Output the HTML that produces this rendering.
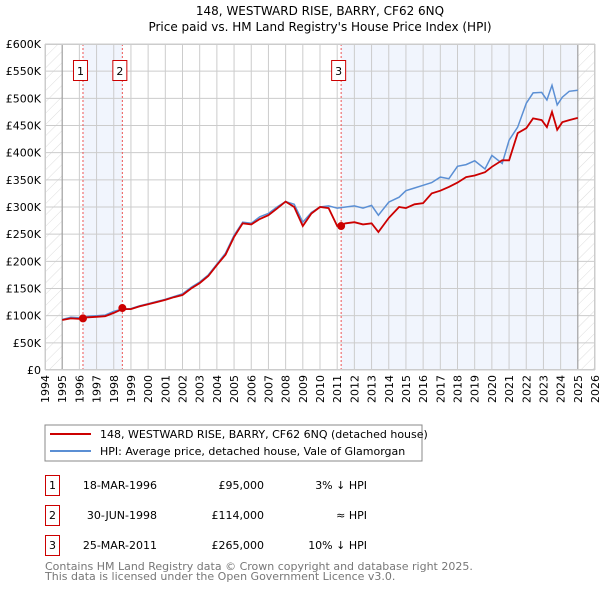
<!DOCTYPE html>
<html><head><meta charset="utf-8"><style>
body{margin:0;background:#fff;}
svg{display:block;font-family:"DejaVu Sans","Liberation Sans",sans-serif;}
</style></head><body>
<svg id="chart" width="600" height="590" xmlns="http://www.w3.org/2000/svg">
<defs>
<pattern id="hatch" width="8" height="8" patternUnits="userSpaceOnUse" patternTransform="rotate(45)">
<line x1="0" y1="0" x2="0" y2="8" stroke="#d4d4d4" stroke-width="0.8"/>
</pattern>
</defs>
<text x="320" y="15" text-anchor="middle" font-size="12">148, WESTWARD RISE, BARRY, CF62 6NQ</text>
<text x="320" y="31" text-anchor="middle" font-size="12">Price paid vs. HM Land Registry's House Price Index (HPI)</text>
<g id="plot"></g>
<g>
<rect x="45" y="425" width="377" height="36" fill="#fff" stroke="#888"/>
<line x1="50" y1="434" x2="91" y2="434" stroke="#cc0000" stroke-width="2"/>
<text x="100" y="438" font-size="11">148, WESTWARD RISE, BARRY, CF62 6NQ (detached house)</text>
<line x1="50" y1="451" x2="91" y2="451" stroke="#5b8fd4" stroke-width="2"/>
<text x="100" y="455" font-size="11">HPI: Average price, detached house, Vale of Glamorgan</text>
</g>
<g font-size="11">
<rect x="45.5" y="475.5" width="14" height="20" fill="none" stroke="#c00"/>
<text x="52.5" y="489" text-anchor="middle">1</text>
<text x="157" y="489" text-anchor="end">18-MAR-1996</text>
<text x="264" y="489" text-anchor="end">£95,000</text>
<text x="367" y="489" text-anchor="end">3% ↓ HPI</text>
<rect x="45.5" y="505.5" width="14" height="20" fill="none" stroke="#c00"/>
<text x="52.5" y="519" text-anchor="middle">2</text>
<text x="157" y="519" text-anchor="end">30-JUN-1998</text>
<text x="264" y="519" text-anchor="end">£114,000</text>
<text x="367" y="519" text-anchor="end">≈ HPI</text>
<rect x="45.5" y="535.5" width="14" height="20" fill="none" stroke="#c00"/>
<text x="52.5" y="549" text-anchor="middle">3</text>
<text x="157" y="549" text-anchor="end">25-MAR-2011</text>
<text x="264" y="549" text-anchor="end">£265,000</text>
<text x="367" y="549" text-anchor="end">10% ↓ HPI</text>
</g>
<text x="45" y="570" font-size="11" fill="#777">Contains HM Land Registry data © Crown copyright and database right 2025.</text>
<text x="45" y="580" font-size="11" fill="#777">This data is licensed under the Open Government Licence v3.0.</text>
</svg>
<script>
const hpiYears=[1995,1995.5,1996,1996.5,1997,1997.5,1998,1998.5,1999,1999.5,2000,2000.5,2001,2001.5,2002,2002.5,2003,2003.5,2004,2004.5,2005,2005.5,2006,2006.5,2007,2007.5,2008,2008.5,2009,2009.5,2010,2010.5,2011,2011.5,2012,2012.5,2013,2013.4,2014,2014.6,2015,2015.5,2016,2016.5,2017,2017.5,2018,2018.5,2019,2019.6,2020,2020.6,2021,2021.5,2022,2022.4,2022.9,2023.2,2023.5,2023.8,2024.1,2024.5,2025];
const hpiValues=[93,97,96,99,100,101,108,112,113,118,122,126,130,135,140,152,162,175,195,215,248,272,270,282,288,300,310,305,272,290,300,302,298,300,302,298,303,285,309,318,330,335,340,345,355,352,375,378,385,370,395,380,423,447,491,510,511,497,524,488,502,513,515];
const priceYears=hpiYears;
const priceValues=[92,95,94,97,98,99,105,112,112,117,121,125,129,134,138,150,160,173,193,212,245,270,268,278,285,297,310,300,265,288,300,298,265,270,272,268,270,254,280,300,298,305,307,325,330,337,345,355,358,364,374,386,386,436,445,463,460,447,475,442,456,460,464];
const sales=[{year:1996.21,value:95000,label:"1"},{year:1998.5,value:114000,label:"2"},{year:2011.23,value:265000,label:"3"}];
const yTicks=[0,50,100,150,200,250,300,350,400,450,500,550,600];
const xTicks=[1994,1995,1996,1997,1998,1999,2000,2001,2002,2003,2004,2005,2006,2007,2008,2009,2010,2011,2012,2013,2014,2015,2016,2017,2018,2019,2020,2021,2022,2023,2024,2025,2026];

const L=45,R=595,T=44,B=370;
const X=y=>L+(y-1994)/(2026-1994)*(R-L);
const Y=v=>B-v/600*(B-T);
const NS="http://www.w3.org/2000/svg";
const g=document.getElementById('plot');
function mk(tag,attrs,parent){const e=document.createElementNS(NS,tag);for(const k in attrs)e.setAttribute(k,attrs[k]);(parent||g).appendChild(e);return e;}

let e;
e=mk('rect',{x:L,y:T,width:R-L,height:B-T,fill:'#fff'});


e=mk('rect',{x:L,y:T,width:X(1995)-L,height:B-T,fill:'url(#hatch)'});


e=mk('rect',{x:X(2025),y:T,width:R-X(2025),height:B-T,fill:'url(#hatch)'});


e=mk('rect',{x:X(sales[0].year),y:T,width:X(sales[1].year)-X(sales[0].year),height:B-T,fill:'#eef3fc',opacity:0.8});


e=mk('rect',{x:X(sales[2].year),y:T,width:X(2025)-X(sales[2].year),height:B-T,fill:'#eef3fc',opacity:0.8});



yTicks.forEach(v=>{
  e=mk('line',{x1:L,x2:R,y1:Y(v),y2:Y(v),stroke:'#ccc','stroke-width':1});
  
  
  e=mk('text',{x:L-4,y:Y(v)+4,'text-anchor':'end','font-size':11});
  e.textContent=v===0?'£0':'£'+v+'K';
  
  
});
xTicks.forEach(yr=>{
  e=mk('line',{x1:X(yr),x2:X(yr),y1:T,y2:B,stroke:'#ccc','stroke-width':1});
  
  
  e=mk('text',{x:0,y:0,'text-anchor':'end','font-size':11,transform:`translate(${X(yr)+4},${B+5}) rotate(-90)`});
  e.textContent=yr;
  
  
});
e=mk('line',{x1:X(1995),x2:X(1995),y1:T,y2:B,stroke:'#999'});


e=mk('line',{x1:X(2025),x2:X(2025),y1:T,y2:B,stroke:'#999'});



sales.forEach(s=>{
  e=mk('line',{x1:X(s.year),x2:X(s.year),y1:T,y2:B,stroke:'#e55','stroke-dasharray':'2,2'});
  
  
});

const path=(xs,vs)=>xs.map((x,i)=>(i?'L':'M')+X(x).toFixed(1)+','+Y(vs[i]).toFixed(1)).join('');
e=mk('path',{d:path(hpiYears,hpiValues),fill:'none',stroke:'#5b8fd4','stroke-width':1.5});


e=mk('path',{d:path(priceYears,priceValues),fill:'none',stroke:'#cc0000','stroke-width':1.8});



sales.forEach(s=>{
  e=mk('circle',{cx:X(s.year),cy:Y(s.value/1000),r:4,fill:'#cc0000'});
  
  
  const bx=X(s.year)-10;
  e=mk('rect',{x:bx+0.5,y:60.5,width:14,height:20,fill:'#fff',stroke:'#c00'});
  
  
  e=mk('text',{x:bx+7.5,y:75,'text-anchor':'middle','font-size':11});
  e.textContent=s.label;
  
  
});
e=mk('rect',{x:L+0.5,y:T+0.5,width:R-L-1,height:B-T-1,fill:'none',stroke:'#ccc'});


</script>
</body></html>
